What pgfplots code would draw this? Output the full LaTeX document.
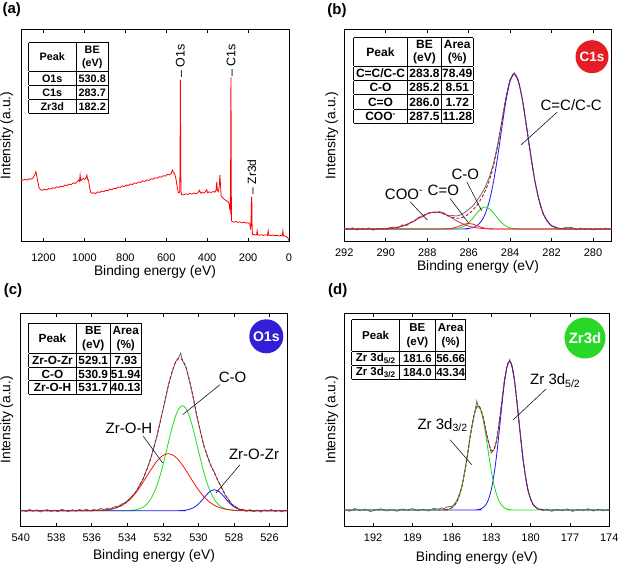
\documentclass[border=0pt]{standalone}
\usepackage{pgfplots}
\pgfplotsset{compat=1.18}
\usepackage{fontspec}
\setmainfont{Liberation Sans}

\definecolor{fitred}{RGB}{165,25,35}
\definecolor{datagray}{RGB}{105,105,105}
\definecolor{cblue}{RGB}{25,25,240}
\definecolor{cgreen}{RGB}{25,225,25}
\definecolor{cred}{RGB}{245,20,20}
\definecolor{cpink}{RGB}{225,40,90}
\definecolor{badgered}{RGB}{228,30,36}
\definecolor{badgeblue}{RGB}{50,30,215}
\definecolor{badgegreen}{RGB}{40,215,40}
\definecolor{survey}{RGB}{255,0,0}
\definecolor{leader}{RGB}{20,20,50}

\newcommand{\cell}[3]{\parbox[c][#2][c]{#1}{\centering #3}}
\setlength{\tabcolsep}{0pt}
\setlength{\arrayrulewidth}{0.9pt}
\renewcommand{\arraystretch}{0}

\pgfplotsset{
 panel/.style={
  scale only axis, anchor=south west, x dir=reverse,
  ytick=\empty, clip=true,
  axis line style={line width=0.8pt, black},
  every tick/.append style={black, line width=0.7pt},
  major tick length=4pt,
  /pgf/number format/assume math mode=true,
  /pgf/number format/1000 sep={},
  tick label style={font=\fontsize{11}{13}\selectfont},
  xlabel={Binding energy (eV)},
  ylabel={Intensity (a.u.)},
  label style={font=\fontsize{13.8}{16}\selectfont},
 },
 comp/.style={line width=0.8pt, smooth},
 env/.style={line width=0.9pt, smooth, fitred, dash pattern=on 3pt off 2pt},
 dat/.style={line width=0.8pt, datagray},
}

\begin{document}
\begin{tikzpicture}
\path[use as bounding box] (0,0) rectangle (620pt,566pt);

% ---------------- (a) survey ----------------
\begin{axis}[panel, at={(21pt,324.3pt)}, width=268pt, height=212.4pt,
  xmin=0, xmax=1310, ymin=0, ymax=212.4,
  xtick={0,200,...,1200},
  xticklabel style={anchor=center, yshift=-15.6pt},
  xlabel style={at={(axis description cs:0.5,0)}, anchor=center, yshift=-30pt},
  ylabel style={at={(axis description cs:-0.053,0.5)}, anchor=center}]
\addplot[survey, line width=0.8pt] coordinates {
(1310,61) (1300,61.5) (1290,62.5) (1280,61.5) (1270,63) (1260,62.5) (1250,64) (1245,66) (1240,68) (1237,70) (1234,67) (1228,60) (1222,54) (1215,52) (1205,51.5)
(1195,52.5) (1185,51.8) (1175,53.2) (1165,52.6) (1155,53.9) (1145,53.4) (1135,55) (1125,54.3) (1115,55.6) (1105,55.1) (1095,56.7) (1085,56.1) (1075,57.6) (1065,57.0) (1055,58.8) (1045,58.3) (1035,60) (1028,61.7) (1024,60.5) (1021,66.7) (1018,61) (1010,62.5) (1005,63.4) (998,62.3) (992,64) (988,66.7) (984,62) (980,61.7) (975,55) (970,49.5) (965,48.4)
(955,48.9) (945,48.2) (935,49.8) (925,49.3) (915,50.7) (905,50.1) (895,51.4) (885,51) (875,52.6) (865,52) (855,53.5) (845,53) (835,54.6) (825,54.3) (815,55.8) (805,55.2) (795,56.7) (785,56.2) (775,57.7) (765,57.2) (755,58.8) (745,58.3) (735,59.7) (725,59.3) (715,60.9) (705,60.3) (695,61.8) (685,61.3) (675,62.9) (665,62.4) (655,64) (645,63.4) (635,65) (625,64.5) (615,66) (605,65.6) (595,67.2) (585,66.8) (575,68.5) (570,71.7) (566,70) (560,68) (556,66) (552,62) (548,57) (544,52) (540,49)
(537,48.6) (534,50) (532.5,80) (531.5,140) (530.8,161.7) (530,125) (529,70) (527.5,50) (525,47)
(515,46.8) (505,47.8) (495,47.2) (485,48.3) (475,47.6) (465,48.7) (455,48.1) (445,49) (438,51.5) (432,48.5) (425,49.2) (415,48.6) (407,50.5) (402,52) (398,49) (390,49.8) (380,49.3) (370,50.1) (362,49.6) (356,52) (353,60) (350,51) (346,50) (341,55) (338,66.7) (335,58) (332,46) (328,45) (320,43) (312,41.7) (305,40.8) (298,40) (293,38) (290,33) (287,30)
(286,55) (285,90) (284.3,145) (283.7,164.3) (283,130) (282.3,70) (281.5,30) (280.5,21) (278,20)
(270,19.6) (260,20.2) (250,19.3) (240,19.8) (230,18.9) (220,19.4) (210,18.6) (200,19) (193,18.4) (190,16) (187,12)
(185.5,20) (184,38) (183,44) (182.2,45) (181.5,38) (180.5,18) (179,9) (177,6.7)
(170,7.2) (163,6.6) (158,7) (156,11) (153,7) (145,6.5) (135,7) (125,6.3) (115,6.8) (105,6.4) (102,11) (99,6.5) (90,6.2) (80,6.7) (70,6) (60,6.4) (50,5.8) (40,6.2) (33,5.8) (30,10.7) (27,6) (20,5.5) (12,5) (6,4) (3,2.5) (0,1)
};
\node[rotate=90, anchor=west, inner sep=0.5pt, font=\fontsize{12.5}{14}\selectfont] at (axis cs:530.8,163) {\textendash\ O1s};
\node[rotate=90, anchor=west, inner sep=0.5pt, font=\fontsize{12.5}{14}\selectfont] at (axis cs:283.7,164.5) {\textendash\ C1s};
\node[rotate=90, anchor=west, inner sep=0.5pt, font=\fontsize{12}{14}\selectfont] at (axis cs:182.2,47) {\textendash\ Zr3d};
\end{axis}

% ---------------- (b) C1s ----------------
\begin{axis}[panel, at={(344.3pt,324.3pt)}, width=267.4pt, height=212.4pt,
  xmin=279.1, xmax=292, ymin=-12.7, ymax=199.7,
  xtick={280,282,...,292},
  xticklabel style={anchor=center, yshift=-11pt},
  xlabel style={at={(axis description cs:0.5,0)}, anchor=center, yshift=-25.5pt},
  ylabel style={at={(axis description cs:-0.047,0.5)}, anchor=center}]
\addplot[dat] coordinates {
(292.0,0.8) (291.8,-0.6) (291.6,1.2) (291.4,-1.0) (291.2,0.3) (291.0,-0.4) (290.8,1.0) (290.6,-1.2) (290.4,0.6) (290.2,0.3) (290.0,-0.5) (289.8,1.5) (289.6,1.9) (289.4,1.2) (289.2,4.1) (289.0,3.4) (288.8,6.6) (288.6,8.1) (288.4,11.9) (288.2,12.1) (288.0,15.7) (287.8,16.6) (287.6,16.2) (287.4,17.4) (287.2,16.1) (287.0,12.9) (286.8,13.5) (286.6,13.0) (286.4,14.0) (286.2,16.5) (286.0,19.5) (285.8,23.0) (285.6,28.5) (285.4,34.5) (285.2,42.0) (285.0,52.0) (284.8,65.5) (284.6,84.5) (284.4,107.8) (284.2,131.8) (284.0,149.5) (283.8,156.2) (283.6,147.5) (283.4,128.9) (283.2,100.6) (283.0,73.4) (282.8,47.1) (282.6,28.8) (282.4,14.7) (282.2,8.1) (282.0,3.0) (281.8,1.9) (281.6,0.0) (281.4,1.1) (281.2,1.8) (281.0,1.4) (280.8,-0.7) (280.6,0.9) (280.4,-0.5) (280.2,0.6) (280.0,-0.9) (279.8,0.4) (279.6,-0.3) (279.4,0.8) (279.2,-0.4)
};
\addplot[comp, cblue] coordinates {
(279.1,0) (281.2,0) (281.4,0.2) (281.6,0.5) (281.8,1.4) (282.0,3.4) (282.2,7.5) (282.4,15.2) (282.6,28.2) (282.8,47.5) (283.0,72.7) (283.2,101.2) (283.4,128.3) (283.6,147.8) (283.8,155) (284.0,147.8) (284.2,128.3) (284.4,101.2) (284.6,72.7) (284.8,47.5) (285.0,28.2) (285.2,15.2) (285.4,7.5) (285.6,3.4) (285.8,1.4) (286.0,0.5) (286.2,0.2) (286.4,0) (292,0)
};
\addplot[comp, cgreen] coordinates {
(279.1,0) (283.4,0) (283.6,0.1) (283.8,0.4) (284.0,1.2) (284.2,3.0) (284.4,6.1) (284.6,10.7) (284.8,16.0) (285.0,20.3) (285.2,22) (285.4,20.3) (285.6,16.0) (285.8,10.7) (286.0,6.1) (286.2,3.0) (286.4,1.2) (286.6,0.4) (286.8,0.1) (287.0,0) (292,0)
};
\addplot[comp, cred] coordinates {
(279.1,0) (284.6,0) (284.8,0.06) (285.0,0.2) (285.2,0.7) (285.4,1.8) (285.6,3.3) (285.8,4.9) (286.0,5.5) (286.2,4.9) (286.4,3.3) (286.6,1.8) (286.8,0.7) (287.0,0.2) (287.2,0.06) (287.4,0) (292,0)
};
\addplot[comp, cpink] coordinates {
(279.1,0) (284.6,0) (284.8,0.07) (285.0,0.16) (285.2,0.3) (285.4,0.6) (285.6,1.1) (285.8,1.8) (286.0,2.9) (286.2,4.4) (286.4,6.3) (286.6,8.5) (286.8,10.9) (287.0,13.3) (287.2,15.2) (287.4,16.5) (287.6,17) (287.8,16.5) (288.0,15.2) (288.2,13.3) (288.4,10.9) (288.6,8.5) (288.8,6.3) (289.0,4.4) (289.2,2.9) (289.4,1.8) (289.6,1.1) (289.8,0.6) (290.0,0.3) (290.2,0.16) (290.4,0.07) (290.6,0) (292,0)
};
\addplot[env] coordinates {
(279.1,0) (281.2,0) (281.4,0.2) (281.6,0.5) (281.8,1.4) (282.0,3.4) (282.2,7.5) (282.4,15.2) (282.6,28.2) (282.8,47.5) (283.0,72.7) (283.2,101.2) (283.4,128.3) (283.6,147.9) (283.8,155.4) (284.0,149.0) (284.2,131.3) (284.4,107.3) (284.6,83.4) (284.8,63.6) (285.0,48.9) (285.2,38.2) (285.4,30.2) (285.6,23.8) (285.8,18.8) (286.0,15.0) (286.2,12.5) (286.4,10.8) (286.6,10.7) (286.8,11.7) (287.0,13.5) (287.2,15.3) (287.4,16.5) (287.6,17.0) (287.8,16.5) (288.0,15.2) (288.2,13.3) (288.4,10.9) (288.6,8.5) (288.8,6.3) (289.0,4.4) (289.2,2.9) (289.4,1.8) (289.6,1.1) (289.8,0.6) (290.0,0.3) (290.2,0.2) (290.4,0.1) (290.6,0) (292,0)
};
\end{axis}

% ---------------- (c) O1s ----------------
\begin{axis}[panel, at={(20.7pt,39.5pt)}, width=266.6pt, height=213.5pt,
  xmin=525, xmax=540, ymin=-15.8, ymax=197.7,
  xtick={526,528,...,540},
  xticklabel style={anchor=center, yshift=-11.5pt},
  xlabel style={at={(axis description cs:0.5,0)}, anchor=center, yshift=-29.8pt},
  ylabel style={at={(axis description cs:-0.0525,0.5)}, anchor=center}]
\addplot[dat] coordinates {
(539.9,0.5) (539.7,-1.0) (539.5,1.4) (539.3,-0.6) (539.1,0.9) (538.9,-1.3) (538.7,0.4) (538.5,1.1) (538.3,-0.8) (538.1,0.6) (537.9,-1.1) (537.7,1.5) (537.5,0.2) (537.3,-0.9) (537.1,1.0) (536.9,-0.5) (536.7,1.3) (536.5,0.1) (536.3,1.6) (536.1,-0.2) (535.9,1.2) (535.7,0.6) (535.5,2.2) (535.3,1.1) (535.1,2.6) (534.9,2.4) (534.7,4.0) (534.5,4.6) (534.3,6.8) (534.1,8.4) (533.9,11.6) (533.7,15.2) (533.5,19.1) (533.3,26.0) (533.1,32.1) (532.9,41.8) (532.7,51.0) (532.5,64.2) (532.3,76.7) (532.1,93.4) (531.9,108.1) (531.7,125.1) (531.5,137.4) (531.3,148.6) (531.1,153.4) (531.0,157.5) (530.9,150.1) (530.7,143.8) (530.5,129.3) (530.3,114.2) (530.1,95.4) (529.9,80.5) (529.7,65.0) (529.5,55.1) (529.3,44.9) (529.1,38.3) (528.9,29.6) (528.7,23.8) (528.5,15.6) (528.3,11.3) (528.1,5.7) (527.9,4.1) (527.7,0.9) (527.5,1.6) (527.3,-0.8) (527.1,1.2) (526.9,-1.1) (526.7,0.7) (526.5,-1.4) (526.3,0.9) (526.1,-0.5) (525.9,1.3) (525.7,-0.9) (525.5,0.4) (525.3,-1.2) (525.1,0.6)
};
\addplot[comp, cgreen] coordinates {
(525,0) (527.7,0) (527.9,0.2) (528.1,0.5) (528.3,1.0) (528.5,2.0) (528.7,3.7) (528.9,6.6) (529.1,11.2) (529.3,17.9) (529.5,27.0) (529.7,38.7) (529.9,52.6) (530.1,67.4) (530.3,81.8) (530.5,94.0) (530.7,102.1) (530.9,105) (531.1,102.1) (531.3,94.0) (531.5,81.8) (531.7,67.4) (531.9,52.6) (532.1,38.7) (532.3,27.0) (532.5,17.9) (532.7,11.2) (532.9,6.6) (533.1,3.7) (533.3,2.0) (533.5,1.0) (533.7,0.5) (533.9,0.2) (534.1,0) (540,0)
};
\addplot[comp, cblue] coordinates {
(525,0) (526.9,0) (527.1,0.1) (527.3,0.2) (527.5,0.6) (527.7,1.4) (527.9,2.8) (528.1,5.2) (528.3,8.6) (528.5,12.7) (528.7,16.8) (528.9,19.9) (529.1,21) (529.3,19.9) (529.5,16.8) (529.7,12.7) (529.9,8.6) (530.1,5.2) (530.3,2.8) (530.5,1.4) (530.7,0.6) (530.9,0.2) (531.1,0.1) (531.3,0) (540,0)
};
\addplot[comp, cred] coordinates {
(525,0) (526.9,0) (527.3,0.07) (527.5,0.13) (527.7,0.2) (527.9,0.4) (528.1,0.6) (528.3,1.0) (528.5,1.6) (528.7,2.5) (528.9,3.7) (529.1,5.4) (529.3,7.7) (529.5,10.6) (529.7,14.2) (529.9,18.5) (530.1,23.4) (530.3,28.9) (530.5,34.6) (530.7,40.3) (530.9,45.6) (531.1,50.3) (531.3,53.9) (531.5,56.2) (531.7,57) (531.9,56.2) (532.1,53.9) (532.3,50.3) (532.5,45.6) (532.7,40.3) (532.9,34.6) (533.1,28.9) (533.3,23.4) (533.5,18.5) (533.7,14.2) (533.9,10.6) (534.1,7.7) (534.3,5.4) (534.5,3.7) (534.7,2.5) (534.9,1.6) (535.1,1.0) (535.3,0.6) (535.5,0.4) (535.7,0.2) (535.9,0.13) (536.3,0) (540,0)
};
\addplot[env] coordinates {
(525,0) (526.9,0) (527.1,0.1) (527.3,0.3) (527.5,0.7) (527.7,1.6) (527.9,3.4) (528.1,6.3) (528.3,10.6) (528.5,16.3) (528.7,23.0) (528.9,30.2) (529.1,37.6) (529.3,45.5) (529.5,54.4) (529.7,65.6) (529.9,79.7) (530.1,96.0) (530.3,113.5) (530.5,130.0) (530.7,143.0) (530.9,150.8) (531.1,152.5) (531.3,147.9) (531.5,138.0) (531.7,124.4) (531.9,108.8) (532.1,92.6) (532.3,77.3) (532.5,63.5) (532.7,51.5) (532.9,41.2) (533.1,32.6) (533.3,25.4) (533.5,19.5) (533.7,14.7) (533.9,10.8) (534.1,7.8) (534.3,5.4) (534.5,3.7) (534.7,2.5) (534.9,1.6) (535.1,1.0) (535.3,0.6) (535.5,0.4) (535.7,0.2) (535.9,0.1) (536.3,0) (540,0)
};
\end{axis}

% ---------------- (d) Zr3d ----------------
\begin{axis}[panel, at={(344.3pt,39.5pt)}, width=265pt, height=213.5pt,
  xmin=174, xmax=194.2, ymin=-16.5, ymax=197,
  xtick={174,177,...,192},
  xticklabel style={anchor=center, yshift=-10.8pt},
  xlabel style={at={(axis description cs:0.5,0)}, anchor=center, yshift=-31.5pt},
  ylabel style={at={(axis description cs:-0.0475,0.5)}, anchor=center}]
\addplot[dat] coordinates {
(194.2,0.6) (193.8,-1.2) (193.4,1.5) (193.0,-0.4) (192.6,0.9) (192.2,-1.6) (191.8,0.3) (191.4,1.2) (191.0,-0.9) (190.6,0.5) (190.2,-1.3) (189.8,1.0) (189.4,-0.2) (189.0,1.4) (188.6,-0.7) (188.2,0.8) (187.8,-1.0) (187.4,1.6) (187.0,0.9) (186.8,2.1) (186.6,1.2) (186.4,2.9) (186.2,3.4) (186.0,3.5) (185.8,6.2) (185.6,9.9) (185.4,16.8) (185.2,25.1) (185.0,40.5) (184.8,55.4) (184.6,74.6) (184.4,88.0) (184.2,101.5) (184.1,109.0) (184.0,104.0) (183.8,100.2) (183.6,92.5) (183.4,78.1) (183.2,67.8) (183.0,57.0) (182.8,60.1) (182.6,68.5) (182.4,87.2) (182.2,106.9) (182.0,129.6) (181.8,143.1) (181.6,150.3) (181.4,142.4) (181.2,127.3) (181.0,102.5) (180.8,78.3) (180.6,52.9) (180.4,35.0) (180.2,19.5) (180.0,11.6) (179.8,4.8) (179.6,3.1) (179.4,0.4) (179.2,1.0) (179.0,-0.6) (178.8,0.9) (178.4,-1.3) (178.0,0.7) (177.6,-0.8) (177.2,1.1) (176.8,-1.4) (176.4,0.5) (176.0,-0.3) (175.6,1.2) (175.2,-1.0) (174.8,0.8) (174.4,-0.6) (174.0,0.4)
};
\addplot[comp, cblue] coordinates {
(174,0) (178.8,0) (179.0,0.15) (179.2,0.4) (179.4,1.1) (179.6,2.5) (179.8,5.5) (180.0,10.9) (180.2,20.2) (180.4,34.3) (180.6,53.7) (180.8,77.5) (181.0,103.2) (181.2,126.5) (181.4,143.0) (181.6,149) (181.8,143.0) (182.0,126.5) (182.2,103.2) (182.4,77.5) (182.6,53.7) (182.8,34.3) (183.0,20.2) (183.2,10.9) (183.4,5.5) (183.6,2.5) (183.8,1.1) (184.0,0.4) (184.2,0.15) (184.4,0) (194.2,0)
};
\addplot[comp, cgreen] coordinates {
(174,0) (181.2,0) (181.4,0.15) (181.6,0.4) (181.8,1.0) (182.0,2.2) (182.2,4.6) (182.4,8.8) (182.6,15.7) (182.8,25.9) (183.0,39.6) (183.2,56.1) (183.4,73.5) (183.6,89.1) (183.8,100.1) (184.0,104) (184.2,100.1) (184.4,89.1) (184.6,73.5) (184.8,56.1) (185.0,39.6) (185.2,25.9) (185.4,15.7) (185.6,8.8) (185.8,4.6) (186.0,2.2) (186.2,1.0) (186.4,0.4) (186.6,0.15) (186.8,0) (194.2,0)
};
\addplot[env] coordinates {
(174,0) (178.8,0) (179.0,0.15) (179.2,0.4) (179.4,1.1) (179.6,2.5) (179.8,5.5) (180.0,10.9) (180.2,20.2) (180.4,34.3) (180.6,53.7) (180.8,77.5) (181.0,103.2) (181.2,126.5) (181.4,143.2) (181.6,149.4) (181.8,144.0) (182.0,128.7) (182.2,107.8) (182.4,86.3) (182.6,69.4) (182.8,60.2) (183.0,59.8) (183.2,67.0) (183.4,79.0) (183.6,91.6) (183.8,101.2) (184.0,104.4) (184.2,100.3) (184.4,89.1) (184.6,73.5) (184.8,56.1) (185.0,39.6) (185.2,25.9) (185.4,15.7) (185.6,8.8) (185.8,4.6) (186.0,2.2) (186.2,1.0) (186.4,0.4) (186.6,0.15) (186.8,0) (194.2,0)
};
\end{axis}

% ---------------- panel letters ----------------
\node[font=\bfseries\fontsize{15}{17}\selectfont] at (11.7pt,556pt) {(a)};
\node[font=\bfseries\fontsize{15}{17}\selectfont] at (337pt,555.3pt) {(b)};
\node[font=\bfseries\fontsize{15}{17}\selectfont] at (13pt,275pt) {(c)};
\node[font=\bfseries\fontsize{15}{17}\selectfont] at (337.7pt,275.5pt) {(d)};

% ---------------- tables ----------------
\node[anchor=north west, inner sep=0pt, font=\bfseries\fontsize{10.8}{12.8}\selectfont] at (28.3pt,524pt) {%
\begin{tabular}{|c|c|}\hline
\cell{47.5pt}{28pt}{Peak} & \cell{32.5pt}{28pt}{BE\\(eV)}\\\hline
\cell{47.5pt}{13.2pt}{O1s} & \cell{32.5pt}{13.2pt}{530.8}\\\hline
\cell{47.5pt}{13.2pt}{C1s} & \cell{32.5pt}{13.2pt}{283.7}\\\hline
\cell{47.5pt}{13.2pt}{Zr3d} & \cell{32.5pt}{13.2pt}{182.2}\\\hline
\end{tabular}};

\node[anchor=north west, inner sep=0pt, font=\bfseries\fontsize{12}{13.8}\selectfont] at (353.3pt,528.7pt) {%
\begin{tabular}{|c|c|c|}\hline
\cell{54pt}{27.5pt}{Peak} & \cell{34pt}{27.5pt}{BE\\(eV)} & \cell{31.5pt}{27.5pt}{Area\\(\%)}\\\hline
\cell{54pt}{13.4pt}{C=C/C-C} & \cell{34pt}{13.4pt}{283.8} & \cell{31.5pt}{13.4pt}{78.49}\\\hline
\cell{54pt}{13.4pt}{C-O} & \cell{34pt}{13.4pt}{285.2} & \cell{31.5pt}{13.4pt}{8.51}\\\hline
\cell{54pt}{13.4pt}{C=O} & \cell{34pt}{13.4pt}{286.0} & \cell{31.5pt}{13.4pt}{1.72}\\\hline
\cell{54pt}{13.4pt}{COO\textsuperscript{-}} & \cell{34pt}{13.4pt}{287.5} & \cell{31.5pt}{13.4pt}{11.28}\\\hline
\end{tabular}};

\node[anchor=north west, inner sep=0pt, font=\bfseries\fontsize{11.8}{13.8}\selectfont] at (28.3pt,243.7pt) {%
\begin{tabular}{|c|c|c|}\hline
\cell{48pt}{30pt}{Peak} & \cell{33.5pt}{30pt}{BE\\(eV)} & \cell{31.5pt}{30pt}{Area\\(\%)}\\\hline
\cell{48pt}{12.6pt}{Zr-O-Zr} & \cell{33.5pt}{12.6pt}{529.1} & \cell{31.5pt}{12.6pt}{7.93}\\\hline
\cell{48pt}{12.6pt}{C-O} & \cell{33.5pt}{12.6pt}{530.9} & \cell{31.5pt}{12.6pt}{51.94}\\\hline
\cell{48pt}{12.6pt}{Zr-O-H} & \cell{33.5pt}{12.6pt}{531.7} & \cell{31.5pt}{12.6pt}{40.13}\\\hline
\end{tabular}};

\node[anchor=north west, inner sep=0pt, font=\bfseries\fontsize{11.5}{13.8}\selectfont] at (351.7pt,247pt) {%
\begin{tabular}{|c|c|c|}\hline
\cell{47.5pt}{31pt}{Peak} & \cell{36pt}{31pt}{BE\\(eV)} & \cell{30.5pt}{31pt}{Area\\(\%)}\\\hline
\cell{47.5pt}{12.8pt}{Zr 3d\textsubscript{5/2}} & \cell{36pt}{12.8pt}{181.6} & \cell{30.5pt}{12.8pt}{56.66}\\\hline
\cell{47.5pt}{12.8pt}{Zr 3d\textsubscript{3/2}} & \cell{36pt}{12.8pt}{184.0} & \cell{30.5pt}{12.8pt}{43.34}\\\hline
\end{tabular}};

% ---------------- badges ----------------
\node[circle, fill=badgered, minimum size=33pt, inner sep=0pt, text=white, font=\bfseries\fontsize{13.5}{15}\selectfont] at (592pt,509.3pt) {C1s};
\node[circle, fill=badgeblue, minimum size=34pt, inner sep=0pt, text=white, font=\bfseries\fontsize{14}{15}\selectfont] at (266.3pt,229.7pt) {O1s};
\node[circle, fill=badgegreen, minimum size=41pt, inner sep=0pt, text=white, font=\bfseries\fontsize{15}{16}\selectfont] at (585pt,228pt) {Zr3d};

% ---------------- peak labels (b) ----------------
\node[font=\fontsize{15}{17}\selectfont] at (571.2pt,461pt) {C=C/C-C};
\draw[leader, line width=0.6pt] (557.3pt,454pt) -- (521pt,421pt);
\node[font=\fontsize{15}{17}\selectfont] at (465.3pt,392pt) {C-O};
\draw[leader, line width=0.6pt] (466.7pt,384.3pt) -- (481.7pt,355.3pt);
\node[font=\fontsize{15}{17}\selectfont] at (443.3pt,375.2pt) {C=O};
\draw[leader, line width=0.6pt] (450pt,367.7pt) -- (468.3pt,343.3pt);
\node[font=\fontsize{15}{17}\selectfont] at (404pt,372pt) {COO\textsuperscript{-}};
\draw[leader, line width=0.6pt] (410pt,364.3pt) -- (427.3pt,346pt);

% ---------------- peak labels (c) ----------------
\node[font=\fontsize{15}{17}\selectfont] at (232.5pt,189pt) {C-O};
\draw[leader, line width=0.6pt] (220pt,181.3pt) -- (182.7pt,151.3pt);
\node[font=\fontsize{15}{17}\selectfont] at (129pt,138pt) {Zr-O-H};
\draw[leader, line width=0.6pt] (143.3pt,129.7pt) -- (162.7pt,103pt);
\node[font=\fontsize{15}{17}\selectfont] at (254pt,111.3pt) {Zr-O-Zr};
\draw[leader, line width=0.6pt] (240pt,101.3pt) -- (216pt,73pt);

% ---------------- peak labels (d) ----------------
\node[anchor=base west, inner sep=0pt, font=\fontsize{15}{17}\selectfont] at (530pt,181.3pt) {Zr 3d\textsubscript{5/2}};
\draw[leader, line width=0.6pt] (546pt,177pt) -- (513.3pt,146.3pt);
\node[anchor=base west, inner sep=0pt, font=\fontsize{15}{17}\selectfont] at (417.3pt,137pt) {Zr 3d\textsubscript{3/2}};
\draw[leader, line width=0.6pt] (450pt,126.3pt) -- (471.7pt,101.3pt);
\end{tikzpicture}
\end{document}
